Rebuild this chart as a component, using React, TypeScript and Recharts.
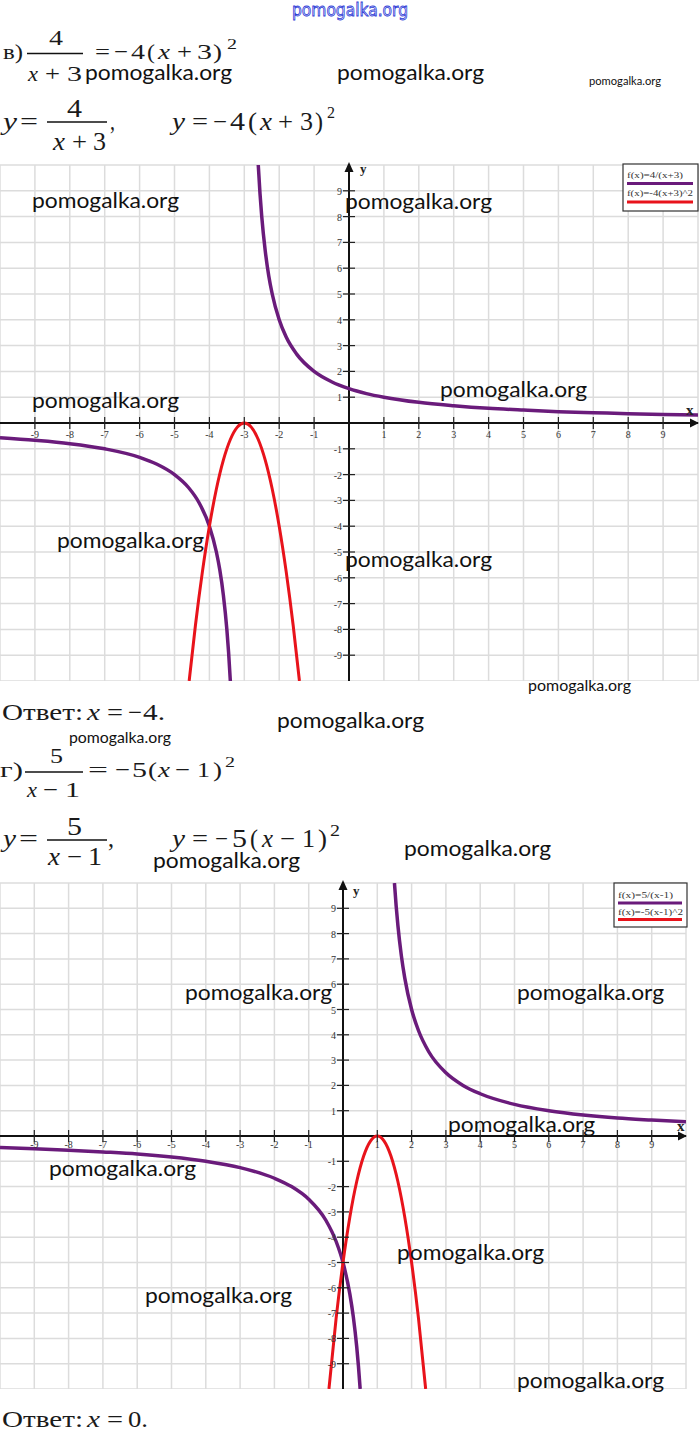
import React from 'react';
import { LineChart, Line, XAxis, YAxis, ReferenceLine, ReferenceDot } from 'recharts';

// grid + ticks
const GRID = [-10, -9, -8, -7, -6, -5, -4, -3, -2, -1, 0, 1, 2, 3, 4, 5, 6, 7, 8, 9, 10];
const TICKS = [-9, -8, -7, -6, -5, -4, -3, -2, -1, 1, 2, 3, 4, 5, 6, 7, 8, 9];

// chart 1: y = 4/(x+3) and y = -4(x+3)^2
const HYP1_LEFT_X = [-10, -9, -8, -7, -6, -5.5, -5, -4.6, -4.3, -4, -3.8, -3.7, -3.6, -3.5, -3.45, -3.4];
const HYP1_LEFT_Y = [-0.57, -0.67, -0.8, -1, -1.33, -1.6, -2, -2.5, -3.08, -4, -5, -5.71, -6.67, -8, -8.89, -10];
const HYP1_RIGHT_X = [-2.6, -2.55, -2.5, -2.4, -2.3, -2.2, -2, -1.8, -1.5, -1, -0.5, 0, 0.5, 1, 2, 3, 4, 5, 6, 7, 8, 9, 10];
const HYP1_RIGHT_Y = [10, 8.89, 8, 6.67, 5.71, 5, 4, 3.33, 2.67, 2, 1.6, 1.33, 1.14, 1, 0.8, 0.67, 0.57, 0.5, 0.44, 0.4, 0.36, 0.33, 0.31];
const PAR1_X = [-4.58, -4.4, -4.2, -4, -3.8, -3.6, -3.4, -3.2, -3, -2.8, -2.6, -2.4, -2.2, -2, -1.8, -1.6, -1.42];
const PAR1_Y = [-10, -7.84, -5.76, -4, -2.56, -1.44, -0.64, -0.16, 0, -0.16, -0.64, -1.44, -2.56, -4, -5.76, -7.84, -10];
const LEGEND1 = ['f(x)=4/(x+3)', 'f(x)=-4(x+3)^2'];

// chart 2: y = 5/(x-1) and y = -5(x-1)^2
const HYP2_LEFT_X = [-10, -9, -8, -7, -6, -5, -4, -3, -2, -1.5, -1, -0.5, -0.2, 0, 0.2, 0.3, 0.4, 0.45, 0.5];
const HYP2_LEFT_Y = [-0.45, -0.5, -0.56, -0.63, -0.71, -0.83, -1, -1.25, -1.67, -2, -2.5, -3.33, -4.17, -5, -6.25, -7.14, -8.33, -9.09, -10];
const HYP2_RIGHT_X = [1.5, 1.55, 1.6, 1.7, 1.8, 2, 2.2, 2.5, 3, 3.5, 4, 5, 6, 7, 8, 9, 10];
const HYP2_RIGHT_Y = [10, 9.09, 8.33, 7.14, 6.25, 5, 4.17, 3.33, 2.5, 2, 1.67, 1.25, 1, 0.83, 0.71, 0.63, 0.56];
const PAR2_X = [-0.41, -0.2, 0, 0.2, 0.4, 0.6, 0.8, 1, 1.2, 1.4, 1.6, 1.8, 2, 2.2, 2.41];
const PAR2_Y = [-10, -7.2, -5, -3.2, -1.8, -0.8, -0.2, 0, -0.2, -0.8, -1.8, -3.2, -5, -7.2, -10];
const LEGEND2 = ['f(x)=5/(x-1)', 'f(x)=-5(x-1)^2'];

const PURPLE = '#6a1b7b';
const RED = '#e8131b';
const SERIF = 'Liberation Serif';

const toPts = (xs: number[], ys: number[]) => xs.map((x, i) => ({ x, y: ys[i] }));

type ChartProps = {
  width: number;
  height: number;
  right: number;
  labelDy: number;
  curves: { pts: { x: number; y: number }[]; color: string; w: number }[];
  xLab: [number, number];
  yLab: [number, number];
};

function FuncChart({ width, height, right, labelDy, curves, xLab, yLab }: ChartProps) {
  return (
    <LineChart width={width} height={height} margin={{ top: 6, right, bottom: 0, left: 0 }}>
      <XAxis type="number" dataKey="x" domain={[-10, 10]} hide allowDataOverflow />
      <YAxis type="number" dataKey="y" domain={[-10, 10]} hide allowDataOverflow />
      {GRID.map((v) => (
        <ReferenceLine key={'gx' + v} x={v} stroke="#dcdcdc" strokeWidth={1.5} />
      ))}
      {GRID.map((v) => (
        <ReferenceLine key={'gy' + v} y={v} stroke="#dcdcdc" strokeWidth={1.5} />
      ))}
      <ReferenceLine x={0} stroke="#111" strokeWidth={2} />
      <ReferenceLine y={0} stroke="#111" strokeWidth={2} />
      {TICKS.map((v) => (
        <ReferenceDot
          key={'tx' + v}
          x={v}
          y={0}
          shape={(p: any) => (
            <g>
              <line x1={p.cx} x2={p.cx} y1={p.cy - 6} y2={p.cy + 6} stroke="#222" strokeWidth={1.2} />
              <text x={p.cx} y={p.cy + labelDy} textAnchor="middle" fontSize={10} fontFamily={SERIF} fill="#333">
                {v}
              </text>
            </g>
          )}
        />
      ))}
      {TICKS.map((v) => (
        <ReferenceDot
          key={'ty' + v}
          x={0}
          y={v}
          shape={(p: any) => (
            <g>
              <line x1={p.cx - 6} x2={p.cx + 6} y1={p.cy} y2={p.cy} stroke="#222" strokeWidth={1.2} />
              <text x={p.cx - 7} y={p.cy + 4} textAnchor="end" fontSize={10} fontFamily={SERIF} fill="#333">
                {v}
              </text>
            </g>
          )}
        />
      ))}
      <ReferenceDot
        x={10}
        y={0}
        shape={(p: any) => (
          <g>
            <path d={`M${p.cx + 1},${p.cy} L${p.cx - 8},${p.cy - 4.5} L${p.cx - 8},${p.cy + 4.5} Z`} fill="#111" />
            <text x={p.cx + xLab[0]} y={p.cy + xLab[1]} fontSize={15} fontWeight="bold" fontFamily={SERIF} fill="#222">x</text>
          </g>
        )}
      />
      <ReferenceDot
        x={0}
        y={10}
        shape={(p: any) => (
          <g>
            <path d={`M${p.cx},${p.cy - 3} L${p.cx - 4.5},${p.cy + 7} L${p.cx + 4.5},${p.cy + 7} Z`} fill="#111" />
            <text x={p.cx + yLab[0]} y={p.cy + yLab[1]} fontSize={13} fontWeight="bold" fontFamily={SERIF} fill="#222">y</text>
          </g>
        )}
      />
      {curves.map((c, i) => (
        <Line
          key={i}
          data={c.pts}
          dataKey="y"
          type="monotone"
          stroke={c.color}
          strokeWidth={c.w}
          dot={false}
          activeDot={false}
          isAnimationActive={false}
        />
      ))}
    </LineChart>
  );
}

function Legend2({ x, y, w, h, labels, rows }: { x: number; y: number; w: number; h: number; labels: string[]; rows: number[][] }) {
  const colors = [PURPLE, RED];
  return (
    <g>
      <rect x={x} y={y} width={w} height={h} fill="#fff" stroke="#333" strokeWidth={1.2} />
      {labels.map((l, i) => (
        <g key={l}>
          <text x={x + 4} y={rows[i][0]} fontSize={9} fontFamily={SERIF} fill="#333" textLength={rows[i][2]} lengthAdjust="spacingAndGlyphs">
            {l}
          </text>
          <line x1={x + 4} x2={x + w - 5} y1={rows[i][1]} y2={rows[i][1]} stroke={colors[i]} strokeWidth={3} />
        </g>
      ))}
    </g>
  );
}

// formula glyphs: [text, left, right, italic]
type G = [string, number, number, boolean?];

function Glyphs({ items, y, size }: { items: G[]; y: number; size: number }) {
  return (
    <>
      {items.map(([s, x0, x1, it], i) => (
        <text
          key={i}
          x={x0}
          y={y}
          fontSize={size}
          fontStyle={it ? 'italic' : 'normal'}
          textLength={x1 - x0}
          lengthAdjust="spacingAndGlyphs"
        >
          {s}
        </text>
      ))}
    </>
  );
}

const WM_BIG: [number, number][] = [
  [85, 80], [337, 80], [32, 208], [345, 209], [440, 397], [32, 408], [57, 548], [345, 567],
  [277, 728], [404, 856], [153, 868], [185, 1000], [517, 1000], [448, 1132], [49, 1176],
  [397, 1260], [145, 1303], [517, 1388],
];

export default function App() {
  const c1 = [
    { pts: toPts(HYP1_LEFT_X, HYP1_LEFT_Y), color: PURPLE, w: 3.5 },
    { pts: toPts(HYP1_RIGHT_X, HYP1_RIGHT_Y), color: PURPLE, w: 3.5 },
    { pts: toPts(PAR1_X, PAR1_Y), color: RED, w: 3 },
  ];
  const c2 = [
    { pts: toPts(HYP2_LEFT_X, HYP2_LEFT_Y), color: PURPLE, w: 3.5 },
    { pts: toPts(HYP2_RIGHT_X, HYP2_RIGHT_Y), color: PURPLE, w: 3.5 },
    { pts: toPts(PAR2_X, PAR2_Y), color: RED, w: 3 },
  ];

  return (
    <div style={{ position: 'absolute', left: 0, top: 0, width: 699, height: 1431, background: '#fff', overflow: 'hidden' }}>
      <div style={{ position: 'absolute', left: 0, top: 159 }}>
        <FuncChart width={699} height={522} right={1} labelDy={15} curves={c1} xLab={[-12, -8]} yLab={[11, 8]} />
      </div>
      <div style={{ position: 'absolute', left: 0, top: 877 }}>
        <FuncChart width={692} height={512} right={6} labelDy={12} curves={c2} xLab={[-9, -5]} yLab={[10, 12]} />
      </div>

      <svg width={699} height={1431} style={{ position: 'absolute', left: 0, top: 0, pointerEvents: 'none' }}>
        {/* top site mark */}
        <text x={292} y={16} fontFamily="DejaVu Sans" fontSize={17} fill="#dfe2fb" stroke="#2c3ad6" strokeWidth={0.8} textLength={116} lengthAdjust="spacingAndGlyphs">
          pomogalka.org
        </text>

        <g fontFamily={SERIF} fill="#1a1a1a">
          {/* в) 4/(x+3) = -4(x+3)^2 */}
          <Glyphs size={22} y={59} items={[['в)', 3, 23], ['=', 95, 110], ['−', 114, 128], ['4', 131, 145], ['(', 147, 155], ['x', 158, 170, true], ['+', 177, 192], ['3', 197, 212], [')', 213, 222]]} />
          <Glyphs size={22} y={45} items={[['4', 49, 63]]} />
          <line x1={27} x2={83} y1={53.5} y2={53.5} stroke="#111" strokeWidth={1.3} />
          <Glyphs size={22} y={81} items={[['x', 28, 38, true], ['+', 45, 60], ['3', 67, 82]]} />
          <Glyphs size={15} y={49} items={[['2', 227, 237]]} />

          {/* y = 4/(x+3),  y = -4(x+3)^2 */}
          <Glyphs size={25} y={130} items={[['y', 3, 17, true], ['=', 20, 38], [',', 110, 115], ['y', 172, 185, true], ['=', 192, 208], ['−', 213, 227], ['4', 230, 245], ['(', 248, 257], ['x', 260, 272, true], ['+', 278, 293], ['3', 300, 313], [')', 315, 323]]} />
          <Glyphs size={25} y={117} items={[['4', 67, 82]]} />
          <line x1={47} x2={107} y1={122} y2={122} stroke="#111" strokeWidth={1.3} />
          <Glyphs size={25} y={150} items={[['x', 53, 65, true], ['+', 72, 87], ['3', 93, 106]]} />
          <Glyphs size={16} y={118} items={[['2', 327, 335]]} />

          {/* Ответ: x = -4. */}
          <Glyphs size={23} y={720} items={[['Ответ:', 2, 83], ['x', 87, 100, true], ['=', 107, 123], ['−', 128, 142], ['4.', 143, 165]]} />

          {/* г) 5/(x-1) = -5(x-1)^2 */}
          <Glyphs size={22} y={777} items={[['г)', 0, 23], ['=', 88, 108], ['−', 115, 130], ['5', 132, 147], ['(', 148, 157], ['x', 158, 170, true], ['−', 175, 190], ['1', 197, 210], [')', 213, 222]]} />
          <Glyphs size={22} y={763} items={[['5', 50, 63]]} />
          <line x1={25} x2={83} y1={772} y2={772} stroke="#111" strokeWidth={1.3} />
          <Glyphs size={22} y={797} items={[['x', 27, 37, true], ['−', 43, 58], ['1', 65, 80]]} />
          <Glyphs size={15} y={767} items={[['2', 225, 235]]} />

          {/* y = 5/(x-1),  y = -5(x-1)^2 */}
          <Glyphs size={25} y={847} items={[['y', 3, 16, true], ['=', 19, 38], [',', 108, 114], ['y', 172, 185, true], ['=', 192, 208], ['−', 215, 228], ['5', 232, 247], ['(', 250, 258], ['x', 262, 273, true], ['−', 280, 295], ['1', 302, 315], [')', 318, 327]]} />
          <Glyphs size={25} y={835} items={[['5', 67, 82]]} />
          <line x1={47} x2={107} y1={840} y2={840} stroke="#111" strokeWidth={1.3} />
          <Glyphs size={25} y={865} items={[['x', 48, 60, true], ['−', 67, 82], ['1', 88, 102]]} />
          <Glyphs size={16} y={836} items={[['2', 330, 340]]} />

          {/* Ответ: x = 0. */}
          <Glyphs size={23} y={1427} items={[['Ответ:', 2, 83], ['x', 87, 100, true], ['=', 107, 123], ['0.', 128, 148]]} />
        </g>

        <Legend2 x={623} y={164} w={75} h={47} labels={LEGEND1} rows={[[178, 183.5, 56], [196, 202, 66]]} />
        <Legend2 x={614} y={883} w={73} h={44} labels={LEGEND2} rows={[[898, 903, 55], [915, 919.5, 65]]} />

        {/* watermarks */}
        <g fontFamily="Lato" fill="#111">
          {WM_BIG.map(([x, y], i) => (
            <text key={i} x={x} y={y} fontSize={21} textLength={147} lengthAdjust="spacingAndGlyphs">pomogalka.org</text>
          ))}
          <text x={589} y={85} fontSize={10.5} textLength={72} lengthAdjust="spacingAndGlyphs">pomogalka.org</text>
          <text x={528} y={691} fontSize={15} textLength={103} lengthAdjust="spacingAndGlyphs">pomogalka.org</text>
          <text x={69} y={743} fontSize={15} textLength={102} lengthAdjust="spacingAndGlyphs">pomogalka.org</text>
        </g>
      </svg>
    </div>
  );
}
